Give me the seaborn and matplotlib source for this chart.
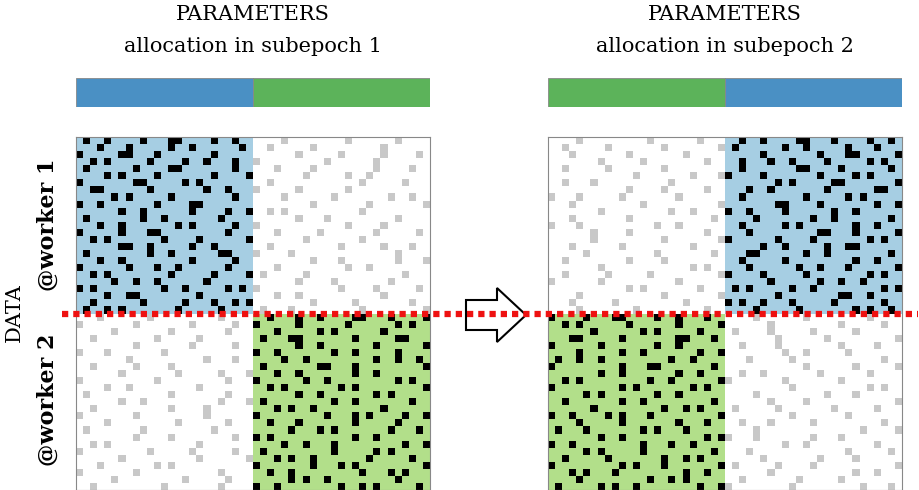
import numpy as np
import matplotlib
matplotlib.use("Agg")
import matplotlib.pyplot as plt
import seaborn as sns
from matplotlib.colors import ListedColormap
from matplotlib.patches import Polygon, Rectangle

sns.set_style("white")
plt.rcParams['font.family'] = ['DejaVu Serif']
plt.rcParams['text.color'] = 'black'

subepochs = ["allocation in subepoch 1", "allocation in subepoch 2"]
workers = ["@worker 1", "@worker 2"]

black_a = [
".#..#....#...##....#..#..","...#...#.....#..#......#.","#.....##...#.......#.....",
"..#.#.....#....#..#...#..",".#......#....##.......#..","....#.#....#.......#....#",
"#.......##.....#.#.......","..##......#.......#..#...",".....#.#.....#........#..",
"#..#.......#....##.......","......#..#......#....#..#",".#.......#..#.......#....",
"...#..#.......#.#.....#..","#.....#...##.........#...","..#.#.......#....#......#",
"......##..#.....#..#.....",".#........#..#......##...","...#..#.........#.....#..",
"#......#...#..#......#...","..#.#........#.....#....#",".....#..#..#......#......",
"#.#.........#..#.....#.#.","....#..##........#.......","..#......#.....#...#..#.#",
".#..#.#.......#.....#....",
]
black_b = [
"..#...#..#....##...#....#","#.....#......#......#.#..","...#.....#.#......#......",
".#...##.......#.....##...","......#..#.......#......#","#..#.......#..#.....#....",
"....#..#.........#..#..#.",".#.......##...#.........#","...#..#.......#..#.......",
"#......#..#.........#.#..","..#.#.......#.#.........#","......#..#.......#.#.....",
".#.........#..#.......#..","...#.#..#.........#......","#.........#...#.#....#..#",
"..#...#.......#.....#....",".....#...#.#.......#...#.","#.#...........#..#.......",
"....#..#...#.........#..#",".#.........#.....#.#.....","...#.#..#.......#.....#..",
"#.......#...#.#.........#","..#..#.........#...#.#...",".....#.#..#.........#....",
"#..#........#..#.#.....#.",
]
grey_a = [
"....#........#......#....","..#.....#.........#......","......#.....#.....#....#.",
"#.........#......#.......","...#....#........#....#..",".......#.....#..#........",
"..#............#.....#...","#.....#......#...........","....#......#.......#..#..",
"........#.......#.......#","..#.#..........#.........","......#...#.........#....",
"#............#....#......","...#.....#.......#.....#.",".......#.......#.........",
"..#.........#.....#...#..","#....#..............#....","........#...#.......#...#",
"...#.........#..#........",".#.....#.............#...","......#....#.......#.....",
"#...........#....#.....#.","...#..#...........#......","........#.....#.......#..",
".#...#.........#........#",
]
grey_b = [
"...#......#.........#....","#.......#.......#.....#..",".....#.......#.......#...",
"..#........#.....#.......","........#.......#.....#..","#...#.......#............",
".......#..........#...#..","..#.....#....#...........","......#.......#.....#...#",
"#..........#.........#...","....#..#.........#.......",".#...........#.......#...",
"......#..#..........#...#","..#..........#....#......","#.......#.........#......",
"....#.........#......#...",".#.......#.........#.....","........#....#........#..",
"..#.#............#.......","#.........#.....#.....#..","......#..........#......#",
"...#.......#.#...........","#.......#...........#....",".....#.........#.....#...",
"..#.........#.......#....",
]

def mat(rows):
    return np.array([[1 if ch == "#" else 0 for ch in r] for r in rows])

def build(quads):
    # codes: 0 white,1 lightblue,2 lightgreen,3 black,4 grey
    M = np.zeros((50, 50), dtype=int)
    offs = [(0, 0), (0, 25), (25, 0), (25, 25)]
    for (r0, c0), (base, dot, pat) in zip(offs, quads):
        q = np.full((25, 25), base)
        q[pat == 1] = dot
        M[r0:r0+25, c0:c0+25] = q
    return M

A, B, C, D = mat(black_a), mat(black_b), mat(grey_a), mat(grey_b)
left = build([(1, 3, A), (0, 4, C), (0, 4, D), (2, 3, B)])
right = build([(0, 4, D[:, ::-1]), (1, 3, A[:, ::-1]), (2, 3, B[:, ::-1]), (0, 4, C[:, ::-1])])

cmap = ListedColormap(["#ffffff", "#a6cee3", "#b2df8a", "#000000", "#c8c8c8"])
W, H = 920, 490
fig = plt.figure(figsize=(9.2, 4.9), dpi=100)

def ax_px(x0, y0, x1, y1):
    return fig.add_axes([x0 / W, 1 - y1 / H, (x1 - x0) / W, (y1 - y0) / H])

panels = [(76, 430, left, ["#4a90c4", "#5cb35a"]), (548, 902, right, ["#5cb35a", "#4a90c4"])]
for i, (x0, x1, M, bars) in enumerate(panels):
    ax = ax_px(x0, 137, x1, 490)
    sns.heatmap(M, ax=ax, cmap=cmap, vmin=-0.5, vmax=4.5, cbar=False,
                xticklabels=False, yticklabels=False, linewidths=0)
    for s in ax.spines.values():
        s.set_visible(True); s.set_color("#888888"); s.set_linewidth(0.8)
    bx = ax_px(x0, 78, x1, 107)
    bx.set_xlim(0, 2); bx.set_ylim(0, 1); bx.axis("off")
    for j, c in enumerate(bars):
        bx.add_patch(Rectangle((j, 0), 1, 1, facecolor=c, edgecolor="#888888", lw=0.6))
    cx = (x0 + x1) / 2 / W
    fig.text(cx, 1 - 15 / H, "PARAMETERS", ha="center", va="center", fontsize=15)
    fig.text(cx, 1 - 47 / H, subepochs[i], ha="center", va="center", fontsize=15)

fig.text(48 / W, 1 - 225 / H, workers[0], rotation=90, ha="center", va="center",
         fontsize=16, fontweight="bold")
fig.text(48 / W, 1 - 400 / H, workers[1], rotation=90, ha="center", va="center",
         fontsize=16, fontweight="bold")
fig.text(14 / W, 1 - 313 / H, "DATA", rotation=90, ha="center", va="center", fontsize=15)

fig.add_artist(plt.Line2D([62 / W, 918 / W], [1 - 314 / H] * 2, transform=fig.transFigure,
                          color="#ee1111", lw=4.5, linestyle=(0, (1, 0.8))))
arrow = [(466, 300), (497, 300), (497, 288), (526, 315), (497, 342), (497, 330), (466, 330)]
fig.add_artist(Polygon([(x / W, 1 - y / H) for x, y in arrow], closed=True,
                       transform=fig.transFigure, facecolor="white", edgecolor="black", lw=1.5))

fig.savefig("out.png", dpi=100)
